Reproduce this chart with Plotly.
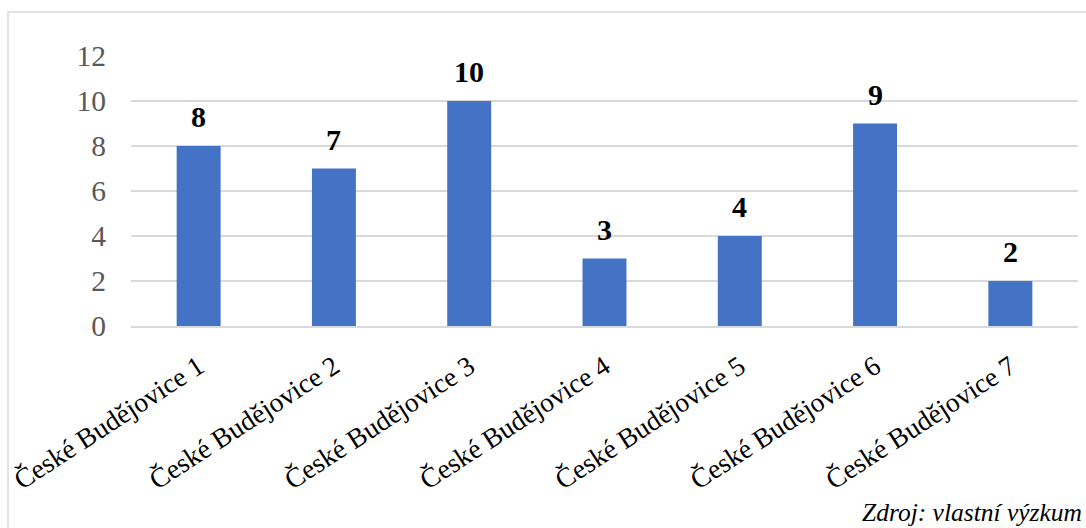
import plotly.graph_objects as go

categories = ["České Budějovice 1", "České Budějovice 2", "České Budějovice 3",
              "České Budějovice 4", "České Budějovice 5", "České Budějovice 6",
              "České Budějovice 7"]
values = [8, 7, 10, 3, 4, 9, 2]
y_ticks = [0, 2, 4, 6, 8, 10, 12]
source_text = "Zdroj: vlastní výzkum"

FONT = "Liberation Serif"
W, H = 1086, 528
L, R, T, B = 131, 8, 56, 202
pw, ph = W - L - R, H - T - B

fig = go.Figure(go.Bar(
    x=categories, y=values, width=0.325,
    marker=dict(color="#4472C4", line=dict(width=0)),
    hoverinfo="x+y",
))

# data labels, placed through the axes from the values
for c, v in zip(categories, values):
    fig.add_annotation(x=c, y=v, xref="x", yref="y", text="<b>%d</b>" % v,
                       showarrow=False, yanchor="bottom", yshift=11,
                       font=dict(family=FONT, size=30, color="#000000"))

fig.update_layout(
    width=W, height=H,
    margin=dict(l=L, r=R, t=T, b=B, pad=0),
    paper_bgcolor="white", plot_bgcolor="white",
    showlegend=False,
    font=dict(family=FONT),
    xaxis=dict(tickangle=-33, tickfont=dict(family=FONT, size=27.5, color="#000000"),
               showgrid=False, showline=True, linecolor="#D9D9D9", linewidth=1.5,
               ticks="", automargin=False, ticklabelstandoff=12),
    yaxis=dict(range=[0, 12], tickvals=y_ticks, ticktext=[str(t) for t in y_ticks],
               tickfont=dict(family=FONT, size=29.5, color="#595959"),
               showgrid=True, gridcolor="#D9D9D9", gridwidth=1.5,
               zeroline=False, showline=False, ticks="", ticklabelstandoff=24,
               automargin=False),
)

# outer chart border (left and top visible)
fig.add_shape(type="rect", xref="paper", yref="paper",
              x0=(8 - L) / pw, x1=(W + 20 - L) / pw,
              y0=-(B + 20) / ph, y1=(ph + T - 12) / ph,
              line=dict(color="#D9D9D9", width=1.5), fillcolor="rgba(0,0,0,0)", layer="below")

fig.add_annotation(text="<i>" + source_text + "</i>", xref="paper", yref="paper",
                   x=(W - 2 - L) / pw, y=-(512 - (T + ph)) / ph,
                   xanchor="right", yanchor="middle", showarrow=False,
                   font=dict(family=FONT, size=25.5, color="#000000"))

fig.write_html("out.html")
